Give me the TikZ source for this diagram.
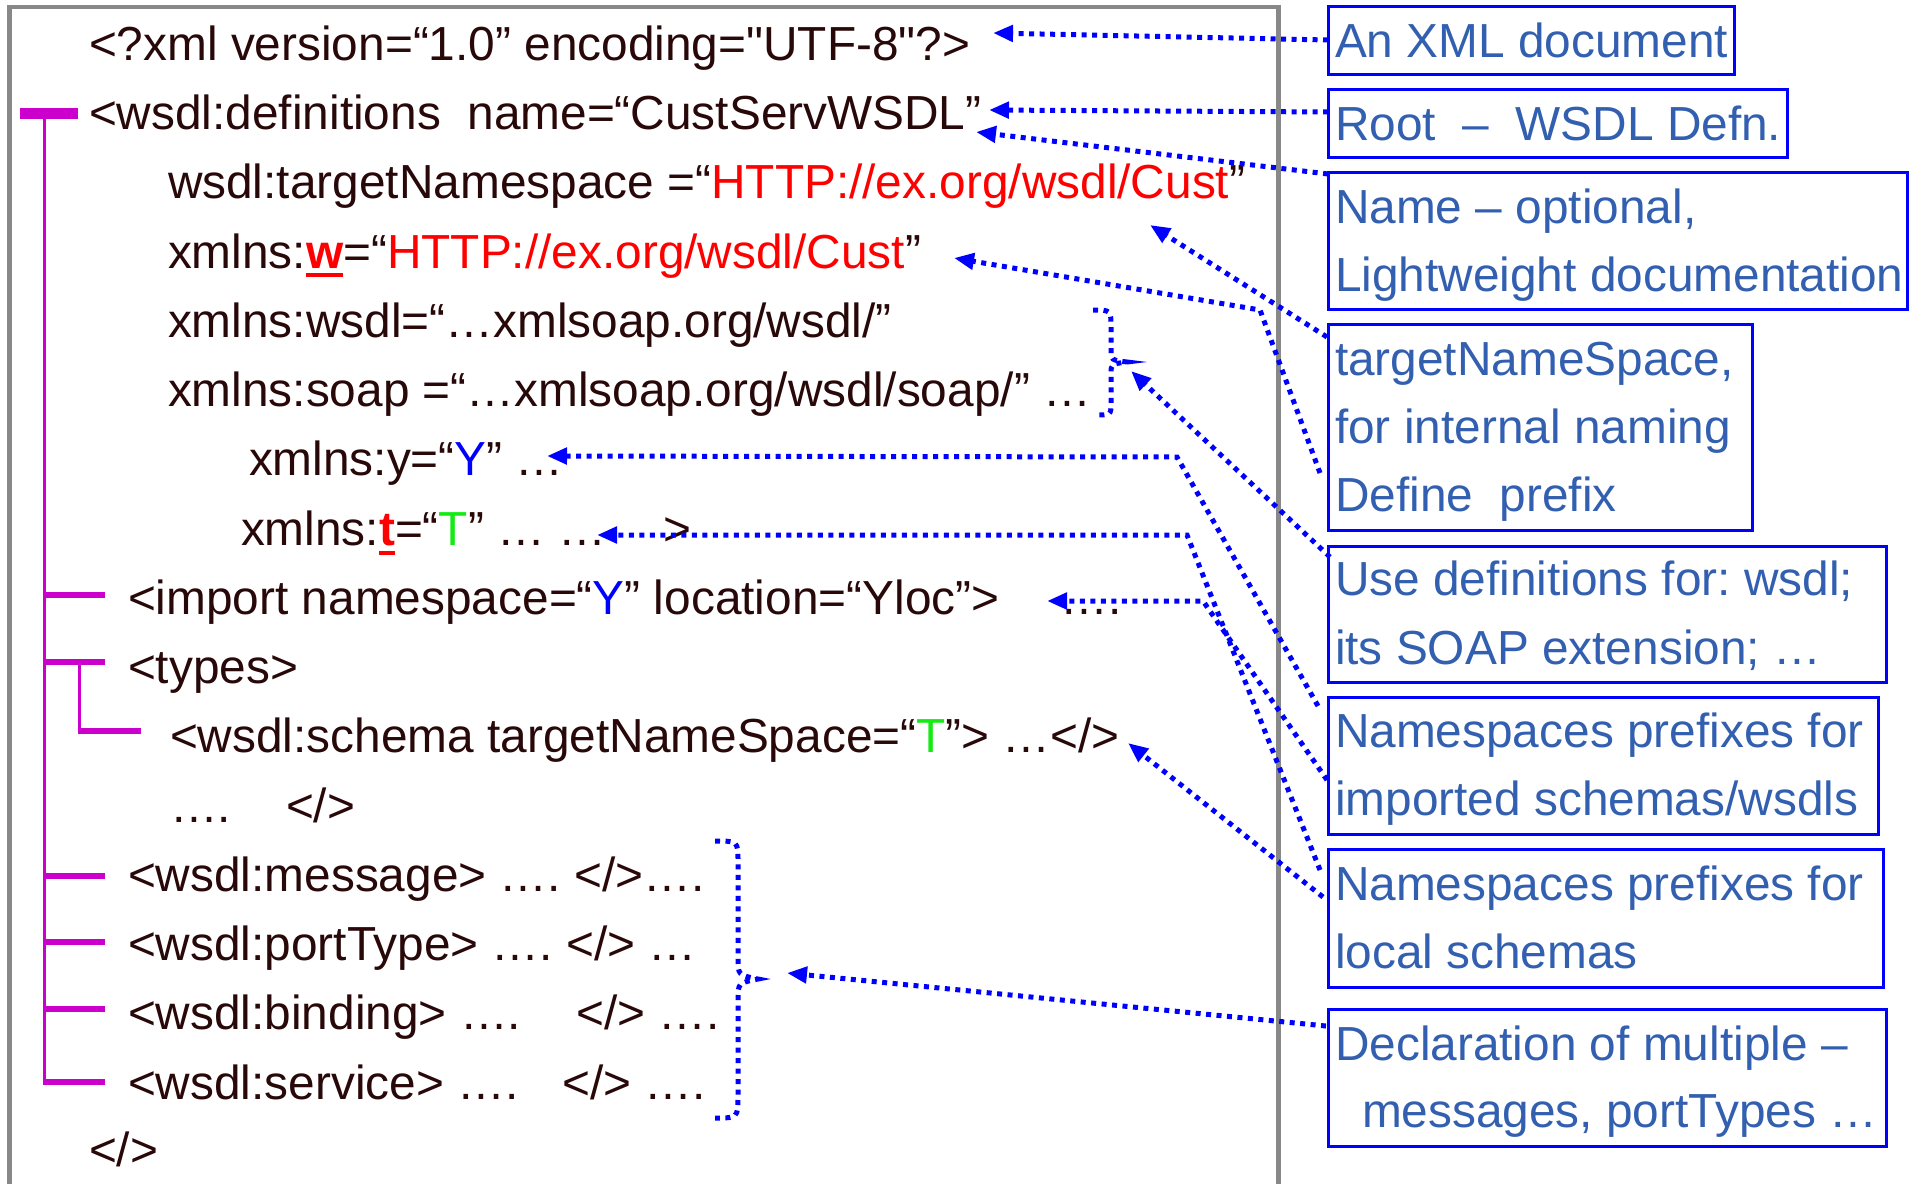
\documentclass[tikz,border=0pt]{standalone}
\usepackage{fontspec}
\setmainfont{Liberation Sans}[Ligatures=TeXOff]
\usetikzlibrary{arrows.meta}
\definecolor{codecol}{RGB}{40,8,8}
\definecolor{notecol}{RGB}{50,95,175}
\definecolor{treecol}{RGB}{204,0,204}
\definecolor{framecol}{RGB}{136,136,136}
\definecolor{lnk}{RGB}{0,0,255}
\definecolor{redc}{RGB}{255,0,0}
\definecolor{bluec}{RGB}{0,0,255}
\definecolor{greenc}{RGB}{20,235,20}
\newcommand\rul[2]{\textcolor{redc}{\setbox0\hbox{\bfseries #1}\rlap{\rule[#2]{\wd0}{4.5pt}}\box0}}
\frenchspacing
\begin{document}
\begin{tikzpicture}[x=1pt,y=-1pt,
  every node/.style={inner sep=0pt,outer sep=0pt},
  code/.style={anchor=base west,text=codecol,font=\fontsize{47.8}{57}\selectfont},
  note/.style={anchor=base west,text=notecol,font=\fontsize{47.8}{57}\selectfont},
  notebox/.style={draw=lnk,line width=3pt,anchor=north west},
  conn/.style={draw=lnk,line width=5pt,dash pattern=on 5pt off 5.5pt,-{Triangle[length=20pt,width=16pt]}},
  bracepath/.style={draw=lnk,line width=5pt,dash pattern=on 5pt off 5.5pt},
  trunk/.style={draw=treecol,line width=3pt},
  twig/.style={draw=treecol,line width=5.5pt}]
\useasboundingbox (0,0) rectangle (1910,1183);
% frame
\draw[framecol,line width=4.7pt] (9.5,1200) -- (9.5,7) -- (1278.5,7) -- (1278.5,1200);
% tree
\draw[treecol,line width=11pt] (20,113.5) -- (78,113.5);
\draw[trunk] (44,108) -- (44,1084);
\foreach \yy in {595,662,876,942,1009,1082} \draw[twig] (42.5,\yy) -- (105,\yy);
\draw[trunk] (79,662) -- (79,733);
\draw[twig] (77.5,731) -- (141,731);
% code lines
\node[code] (l1) at (89,60) {<?xml version=“1.0” encoding="UTF-8"?>};
\node[code] (l2) at (89,129) {<wsdl:definitions\ \ name=“CustServWSDL”};
\node[code] (l3) at (168,198.5) {wsdl:targetNamespace =“\textcolor{redc}{HTTP://ex.org/wsdl/Cust}”};
\node[code] (l4) at (168,268) {xmlns:\rul{w}{-9pt}=“\textcolor{redc}{HTTP://ex.org/wsdl/Cust}”};
\node[code] (l5) at (168,337) {xmlns:wsdl=“…xmlsoap.org/wsdl/”};
\node[code] (l6) at (168,406) {xmlns:soap =“…xmlsoap.org/wsdl/soap/” …};
\node[code] (l7) at (249,475.5) {xmlns:y=“\textcolor{bluec}{Y}” …};
\node[code] (l8) at (241,545) {xmlns:\rul{t}{-10pt}=“\textcolor{greenc}{T}” … …\hspace{57pt}>};
\node[code] (l9) at (128,614) {<import namespace=“\textcolor{bluec}{Y}” location=“Yloc”>\hspace{61pt}….};
\node[code] (l10) at (128,683) {<types>};
\node[code] (l11) at (170,752.5) {<wsdl:schema targetNameSpace=“\textcolor{greenc}{T}”> …</>};
\node[code] (l12) at (170,822) {….\hspace{55pt}</>};
\node[code] (l13) at (128,891) {<wsdl:message> …. </>….};
\node[code] (l14) at (128,960) {<wsdl:portType> …. </> …};
\node[code] (l15) at (128,1029.5) {<wsdl:binding> ….\hspace{55pt}</> ….};
\node[code] (l16) at (128,1099) {<wsdl:service> ….\hspace{44pt}</> ….};
\node[code] (l17) at (89,1166) {</>};
% note boxes
\node[notebox,minimum width=406pt,minimum height=68pt] (b1) at (1328,6) {};
\node[notebox,minimum width=459pt,minimum height=68pt] (b2) at (1328,89) {};
\node[notebox,minimum width=579pt,minimum height=137pt] (b3) at (1328,172) {};
\node[notebox,minimum width=424pt,minimum height=206pt] (b4) at (1328,324) {};
\node[notebox,minimum width=558pt,minimum height=136pt] (b5) at (1328,546) {};
\node[notebox,minimum width=550pt,minimum height=137pt] (b6) at (1328,697) {};
\node[notebox,minimum width=555pt,minimum height=138pt] (b7) at (1328,849) {};
\node[notebox,minimum width=558pt,minimum height=137pt] (b8) at (1328,1009) {};
% note texts
\node[note] (n1) at (1335,57) {An XML document};
\node[note] (n2) at (1335,140) {Root\ \ –\ \ WSDL Defn.};
\node[note] (n3a) at (1335,223) {Name – optional,};
\node[note] (n3b) at (1335,291) {Lightweight documentation};
\node[note] (n4a) at (1335,375) {targetNameSpace,};
\node[note] (n4b) at (1335,443) {for internal naming};
\node[note] (n4c) at (1335,511) {Define\ \ prefix};
\node[note] (n5a) at (1335,595) {Use definitions for: wsdl;};
\node[note] (n5b) at (1335,664) {its SOAP extension; …};
\node[note] (n6a) at (1335,747) {Namespaces prefixes for};
\node[note] (n6b) at (1335,815) {imported schemas/wsdls};
\node[note] (n7a) at (1335,900) {Namespaces prefixes for};
\node[note] (n7b) at (1335,968) {local schemas};
\node[note] (n8a) at (1335,1060) {Declaration of multiple –};
\node[note] (n8b) at (1362,1127) {messages, portTypes …};
% connector end points
\coordinate (s1) at (1328,40);   \coordinate (t1) at (993,33);
\coordinate (s2) at (1328,112);  \coordinate (t2) at (989,110);
\coordinate (s3) at (1328,174);  \coordinate (t3) at (976,132);
\coordinate (s4) at (1327,337);  \coordinate (t4) at (1150,225);
\coordinate (s5) at (1320,473);  \coordinate (c5) at (1260,310); \coordinate (t5) at (954,258);
\coordinate (s6) at (1330,557);  \coordinate (t6) at (1131,371);
\coordinate (s7) at (1318,706);  \coordinate (c7) at (1177,457); \coordinate (t7) at (547,456);
\coordinate (s8) at (1320,870);  \coordinate (c8) at (1187,535); \coordinate (t8) at (597,535);
\coordinate (s9) at (1327,780);  \coordinate (c9) at (1203,601); \coordinate (t9) at (1047,601);
\coordinate (s10) at (1323,897); \coordinate (t10) at (1128,743);
\coordinate (s11) at (1326,1026); \coordinate (t11) at (787,973);
% brackets
\draw[bracepath] (1093,310) .. controls (1111,310) .. (1111,328) -- (1111,350)
  .. controls (1111,360) .. (1127,362) .. controls (1111,364) .. (1111,374)
  -- (1111,403) .. controls (1111,415) .. (1095,415);
\draw[bracepath] (715,841) .. controls (738,841) .. (738,862) -- (738,958)
  .. controls (738,975) .. (758,979) .. controls (738,983) .. (738,1000)
  -- (738,1095) .. controls (738,1118) .. (715,1118);
% connectors
\draw[conn] (s1) -- (t1);
\draw[conn] (s2) -- (t2);
\draw[conn] (s3) -- (t3);
\draw[conn] (s4) -- (t4);
\draw[conn] (s5) -- (c5) -- (t5);
\draw[conn] (s6) -- (t6);
\draw[conn] (s7) -- (c7) -- (t7);
\draw[conn] (s8) -- (c8) -- (t8);
\draw[conn] (s9) -- (c9) -- (t9);
\draw[conn] (s10) -- (t10);
\draw[conn] (s11) -- (t11);
\end{tikzpicture}
\end{document}
